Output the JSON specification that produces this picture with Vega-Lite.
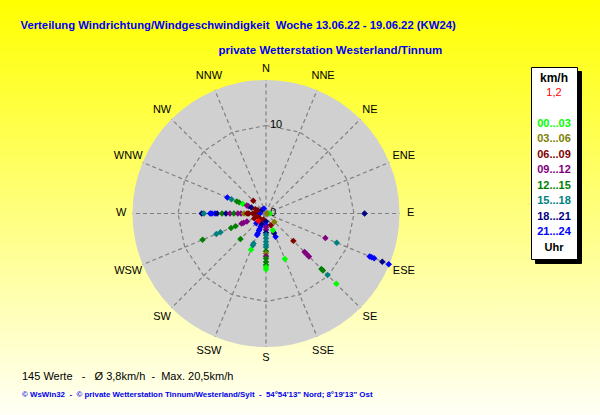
{
  "$schema": "https://vega.github.io/schema/vega-lite/v6.json",
  "width": 600,
  "height": 415,
  "autosize": {"type": "none"},
  "padding": 0,
  "background": "#ffffff",
  "title": {
    "text": "145 Werte\u00a0\u00a0 -\u00a0\u00a0 Ø 3,8km/h\u00a0 -\u00a0 Max. 20,5km/h",
    "subtitle": "© WsWin32\u00a0 -\u00a0 © private Wetterstation Tinnum/Westerland/Sylt\u00a0 -\u00a0 54°54'13\" Nord; 8°19'13\" Ost",
    "orient": "bottom",
    "anchor": "start",
    "frame": "group",
    "offset": -44,
    "dx": 22,
    "font": "Liberation Sans",
    "fontSize": 11,
    "fontWeight": "normal",
    "color": "#000000",
    "subtitleFont": "Liberation Sans",
    "subtitleFontSize": 7.9,
    "subtitleFontWeight": "bold",
    "subtitleColor": "#0000f0",
    "subtitlePadding": 9
  },
  "encoding": {
    "x": {
      "field": "x",
      "type": "quantitative",
      "scale": {"domain": [-30.227, 37.955], "nice": false, "zero": false},
      "axis": {
        "orient": "top",
        "title": "Verteilung Windrichtung/Windgeschwindigkeit\u00a0 Woche 13.06.22 - 19.06.22 (KW24)",
        "domain": false, "ticks": false, "labels": false, "grid": false,
        "titleX": 20, "titleY": 25, "titleAlign": "left", "titleAnchor": "start", "titleBaseline": "middle",
        "titleColor": "#0000f0", "titleFont": "Liberation Sans", "titleFontSize": 11.3, "titleFontWeight": "bold"
      }
    },
    "y": {
      "field": "y",
      "type": "quantitative",
      "scale": {"domain": [-22.898, 24.261], "nice": false, "zero": false},
      "axis": {
        "orient": "left",
        "title": "private Wetterstation Westerland/Tinnum",
        "domain": false, "ticks": false, "labels": false, "grid": false,
        "titleAngle": 0, "titleX": 218, "titleY": 50, "titleAlign": "left", "titleAnchor": "start", "titleBaseline": "middle",
        "titleColor": "#0000f0", "titleFont": "Liberation Sans", "titleFontSize": 11.5, "titleFontWeight": "bold"
      }
    }
  },
  "layer": [
    {
      "data": {"values": [{"part": "Scheibe"}]},
      "transform": [
        {"calculate": "0", "as": "x"},
        {"calculate": "0", "as": "y"}
      ],
      "mark": {"type": "point", "shape": "circle", "filled": true, "size": 71289, "color": "#d0d0d0", "opacity": 1, "strokeWidth": 0}
    },
    {
      "data": {"values": [
        {"deg": 0}, {"deg": 22.5}, {"deg": 45}, {"deg": 67.5},
        {"deg": 90}, {"deg": 112.5}, {"deg": 135}, {"deg": 157.5},
        {"deg": 180}, {"deg": 202.5}, {"deg": 225}, {"deg": 247.5},
        {"deg": 270}, {"deg": 292.5}, {"deg": 315}, {"deg": 337.5}
      ]},
      "transform": [
        {"calculate": "0", "as": "x"},
        {"calculate": "0", "as": "y"},
        {"calculate": "15.17 * sin(datum.deg * PI / 180)", "as": "x2"},
        {"calculate": "15.17 * cos(datum.deg * PI / 180)", "as": "y2"}
      ],
      "mark": {"type": "rule", "color": "#808080", "strokeWidth": 1.2, "strokeDash": [4, 3]},
      "encoding": {
        "x2": {"field": "x2"},
        "y2": {"field": "y2"}
      }
    },
    {
      "data": {"values": [
        {"deg": 0}, {"deg": 22.5}, {"deg": 45}, {"deg": 67.5},
        {"deg": 90}, {"deg": 112.5}, {"deg": 135}, {"deg": 157.5},
        {"deg": 180}, {"deg": 202.5}, {"deg": 225}, {"deg": 247.5},
        {"deg": 270}, {"deg": 292.5}, {"deg": 315}, {"deg": 337.5}, {"deg": 360}
      ]},
      "transform": [
        {"calculate": "10 * sin(datum.deg * PI / 180)", "as": "x"},
        {"calculate": "10 * cos(datum.deg * PI / 180)", "as": "y"}
      ],
      "mark": {"type": "line", "color": "#808080", "strokeWidth": 1.2, "strokeDash": [4, 3]},
      "encoding": {
        "order": {"field": "deg", "type": "quantitative"}
      }
    },
    {
      "data": {"values": [{"v": 0, "label": "0"}, {"v": 10, "label": "10"}]},
      "transform": [
        {"calculate": "0", "as": "x"},
        {"calculate": "datum.v", "as": "y"}
      ],
      "mark": {"type": "text", "align": "left", "baseline": "middle", "dx": 4, "font": "Liberation Sans", "fontSize": 11, "color": "#000000"},
      "encoding": {
        "text": {"field": "label"}
      }
    },
    {
      "data": {"values": [
        {"deg": 0, "name": "N"}, {"deg": 22.5, "name": "NNE"}, {"deg": 45, "name": "NE"}, {"deg": 67.5, "name": "ENE"},
        {"deg": 90, "name": "E"}, {"deg": 112.5, "name": "ESE"}, {"deg": 135, "name": "SE"}, {"deg": 157.5, "name": "SSE"},
        {"deg": 180, "name": "S"}, {"deg": 202.5, "name": "SSW"}, {"deg": 225, "name": "SW"}, {"deg": 247.5, "name": "WSW"},
        {"deg": 270, "name": "W"}, {"deg": 292.5, "name": "WNW"}, {"deg": 315, "name": "NW"}, {"deg": 337.5, "name": "NNW"}
      ]},
      "transform": [
        {"calculate": "16.2 + 0.25 * length(datum.name)", "as": "r"},
        {"calculate": "datum.r * sin(datum.deg * PI / 180)", "as": "x"},
        {"calculate": "datum.r * cos(datum.deg * PI / 180)", "as": "y"}
      ],
      "mark": {"type": "text", "align": "center", "baseline": "middle", "font": "Liberation Sans", "fontSize": 11, "color": "#000000"},
      "encoding": {
        "text": {"field": "name"}
      }
    },
    {
      "data": {"values": [{"schatten": "Uhr"}]},
      "transform": [
        {"calculate": "0", "as": "x"},
        {"calculate": "0", "as": "y"}
      ],
      "mark": {"type": "point", "opacity": 0, "size": 0},
      "encoding": {
        "shape": {
          "field": "schatten",
          "type": "nominal",
          "sort": null,
          "scale": {
            "domain": ["Uhr", "21...24", "18...21", "15...18", "12...15", "09...12", "06...09", "03...06", "00...03", " ", "1,2"]
          },
          "legend": {
            "title": "km/h",
            "orient": "none",
            "legendX": 535,
            "legendY": 71,
            "zindex": 0,
            "padding": 6,
            "fillColor": "#000000",
            "strokeColor": "#000000",
            "titleAnchor": "middle",
            "titleFont": "Liberation Sans",
            "titleFontSize": 12,
            "titleFontWeight": "bold",
            "titleColor": "#000000",
            "titlePadding": 2,
            "labelFont": "Liberation Sans",
            "labelFontSize": 11,
            "labelFontWeight": "bold",
            "labelColor": "#000000",
            "labelAlign": "center",
            "labelOffset": 6,
            "symbolSize": 0,
            "symbolStrokeWidth": 0,
            "symbolOpacity": 0,
            "rowPadding": 3.5
          }
        }
      }
    },
    {
      "data": {"values": [
        {"deg": 270, "v": 7.3, "h": "18...21"},
        {"deg": 270, "v": 7.05, "h": "15...18"},
        {"deg": 270, "v": 6.35, "h": "21...24"},
        {"deg": 270, "v": 6.15, "h": "21...24"},
        {"deg": 270, "v": 5.8, "h": "21...24"},
        {"deg": 270, "v": 5.55, "h": "18...21"},
        {"deg": 270, "v": 5.0, "h": "12...15"},
        {"deg": 270, "v": 4.55, "h": "18...21"},
        {"deg": 270, "v": 4.1, "h": "09...12"},
        {"deg": 270, "v": 3.65, "h": "12...15"},
        {"deg": 270, "v": 3.2, "h": "09...12"},
        {"deg": 270, "v": 2.85, "h": "09...12"},
        {"deg": 270, "v": 2.5, "h": "03...06"},
        {"deg": 270, "v": 2.15, "h": "06...09"},
        {"deg": 270, "v": 1.95, "h": "06...09"},
        {"deg": 270, "v": 1.5, "h": "06...09"},
        {"deg": 270, "v": 1.25, "h": "06...09"},
        {"deg": 270, "v": 0.9, "h": "06...09"},
        {"deg": 270, "v": 0.7, "h": "21...24"},
        {"deg": 292.5, "v": 4.75, "h": "21...24"},
        {"deg": 292.5, "v": 4.25, "h": "15...18"},
        {"deg": 292.5, "v": 3.6, "h": "12...15"},
        {"deg": 292.5, "v": 3.3, "h": "12...15"},
        {"deg": 292.5, "v": 2.85, "h": "00...03"},
        {"deg": 292.5, "v": 2.35, "h": "09...12"},
        {"deg": 292.5, "v": 2.15, "h": "09...12"},
        {"deg": 292.5, "v": 1.8, "h": "18...21"},
        {"deg": 292.5, "v": 1.3, "h": "06...09"},
        {"deg": 292.5, "v": 1.0, "h": "06...09"},
        {"deg": 315, "v": 2.05, "h": "06...09"},
        {"deg": 315, "v": 0.6, "h": "18...21"},
        {"deg": 337.5, "v": 0.6, "h": "21...24"},
        {"deg": 247.5, "v": 7.8, "h": "12...15"},
        {"deg": 247.5, "v": 6.1, "h": "15...18"},
        {"deg": 247.5, "v": 5.6, "h": "15...18"},
        {"deg": 247.5, "v": 4.3, "h": "12...15"},
        {"deg": 247.5, "v": 3.75, "h": "12...15"},
        {"deg": 247.5, "v": 3.0, "h": "09...12"},
        {"deg": 247.5, "v": 2.75, "h": "09...12"},
        {"deg": 247.5, "v": 2.35, "h": "09...12"},
        {"deg": 247.5, "v": 1.45, "h": "06...09"},
        {"deg": 247.5, "v": 1.0, "h": "06...09"},
        {"deg": 225, "v": 4.1, "h": "12...15"},
        {"deg": 225, "v": 1.55, "h": "21...24"},
        {"deg": 225, "v": 0.9, "h": "06...09"},
        {"deg": 202.5, "v": 4.45, "h": "00...03"},
        {"deg": 202.5, "v": 3.9, "h": "15...18"},
        {"deg": 202.5, "v": 3.7, "h": "15...18"},
        {"deg": 202.5, "v": 2.65, "h": "21...24"},
        {"deg": 202.5, "v": 2.45, "h": "21...24"},
        {"deg": 202.5, "v": 2.1, "h": "21...24"},
        {"deg": 202.5, "v": 1.9, "h": "21...24"},
        {"deg": 202.5, "v": 1.6, "h": "21...24"},
        {"deg": 202.5, "v": 1.3, "h": "18...21"},
        {"deg": 202.5, "v": 0.75, "h": "06...09"},
        {"deg": 180, "v": 0.9, "h": "18...21"},
        {"deg": 180, "v": 1.3, "h": "21...24"},
        {"deg": 180, "v": 1.55, "h": "09...12"},
        {"deg": 180, "v": 1.85, "h": "09...12"},
        {"deg": 180, "v": 2.2, "h": "18...21"},
        {"deg": 180, "v": 2.45, "h": "15...18"},
        {"deg": 180, "v": 2.8, "h": "15...18"},
        {"deg": 180, "v": 3.2, "h": "15...18"},
        {"deg": 180, "v": 3.55, "h": "15...18"},
        {"deg": 180, "v": 3.8, "h": "15...18"},
        {"deg": 180, "v": 4.3, "h": "12...15"},
        {"deg": 180, "v": 4.55, "h": "03...06"},
        {"deg": 180, "v": 4.85, "h": "09...12"},
        {"deg": 180, "v": 5.1, "h": "12...15"},
        {"deg": 180, "v": 5.5, "h": "12...15"},
        {"deg": 180, "v": 5.85, "h": "12...15"},
        {"deg": 180, "v": 6.1, "h": "00...03"},
        {"deg": 180, "v": 6.35, "h": "00...03"},
        {"deg": 157.5, "v": 5.6, "h": "00...03"},
        {"deg": 157.5, "v": 2.85, "h": "21...24"},
        {"deg": 157.5, "v": 2.4, "h": "18...21"},
        {"deg": 157.5, "v": 2.05, "h": "00...03"},
        {"deg": 157.5, "v": 1.45, "h": "06...09"},
        {"deg": 135, "v": 11.3, "h": "00...03"},
        {"deg": 135, "v": 9.9, "h": "15...18"},
        {"deg": 135, "v": 9.15, "h": "12...15"},
        {"deg": 135, "v": 8.9, "h": "12...15"},
        {"deg": 135, "v": 6.9, "h": "09...12"},
        {"deg": 135, "v": 6.55, "h": "09...12"},
        {"deg": 135, "v": 6.2, "h": "09...12"},
        {"deg": 135, "v": 4.4, "h": "06...09"},
        {"deg": 135, "v": 1.35, "h": "03...06"},
        {"deg": 112.5, "v": 15.1, "h": "21...24"},
        {"deg": 112.5, "v": 14.3, "h": "18...21"},
        {"deg": 112.5, "v": 13.3, "h": "21...24"},
        {"deg": 112.5, "v": 13.0, "h": "21...24"},
        {"deg": 112.5, "v": 12.75, "h": "21...24"},
        {"deg": 112.5, "v": 8.7, "h": "15...18"},
        {"deg": 112.5, "v": 7.3, "h": "09...12"},
        {"deg": 90, "v": 11.2, "h": "18...21"},
        {"deg": 90, "v": 0.45, "h": "00...03"},
        {"deg": 90, "v": 0.1, "h": "03...06"},
        {"deg": 225, "v": 1.2, "h": "1,2"}
      ]},
      "transform": [
        {"calculate": "datum.v * sin(datum.deg * PI / 180)", "as": "x"},
        {"calculate": "datum.v * cos(datum.deg * PI / 180)", "as": "y"}
      ],
      "mark": {"type": "point", "shape": "diamond", "filled": true, "size": 42, "opacity": 1, "strokeWidth": 0},
      "encoding": {
        "color": {
          "field": "h",
          "type": "nominal",
          "sort": null,
          "scale": {
            "domain": ["1,2", " ", "00...03", "03...06", "06...09", "09...12", "12...15", "15...18", "18...21", "21...24", "Uhr"],
            "range": ["#ff0000", "#ffffff", "#00ff00", "#808000", "#800000", "#800080", "#008000", "#008080", "#000080", "#0000ff", "#000000"]
          },
          "legend": {
            "title": "km/h",
            "orient": "none",
            "legendX": 531,
            "legendY": 67,
            "zindex": 1,
            "padding": 6,
            "fillColor": "#ffffff",
            "strokeColor": "#000000",
            "titleAnchor": "middle",
            "titleFont": "Liberation Sans",
            "titleFontSize": 12,
            "titleFontWeight": "bold",
            "titleColor": "#000000",
            "titlePadding": 2,
            "labelFont": "Liberation Sans",
            "labelFontSize": 11,
            "labelFontWeight": "bold",
            "labelAlign": "center",
            "labelOffset": 6,
            "symbolSize": 0,
            "symbolStrokeWidth": 0,
            "symbolOpacity": 0,
            "rowPadding": 3.5,
            "encode": {
              "labels": {
                "update": {
                  "fill": {"scale": "color", "field": "value"},
                  "fontWeight": {"signal": "datum.value === '1,2' ? 'normal' : 'bold'"}
                }
              }
            }
          }
        }
      }
    }
  ],
  "config": {
    "view": {
      "stroke": null,
      "fill": {
        "gradient": "linear",
        "x1": 0, "y1": 0, "x2": 0, "y2": 1,
        "stops": [
          {"offset": 0, "color": "#ffff00"},
          {"offset": 1, "color": "#fffff6"}
        ]
      }
    },
    "font": "Liberation Sans"
  }
}
